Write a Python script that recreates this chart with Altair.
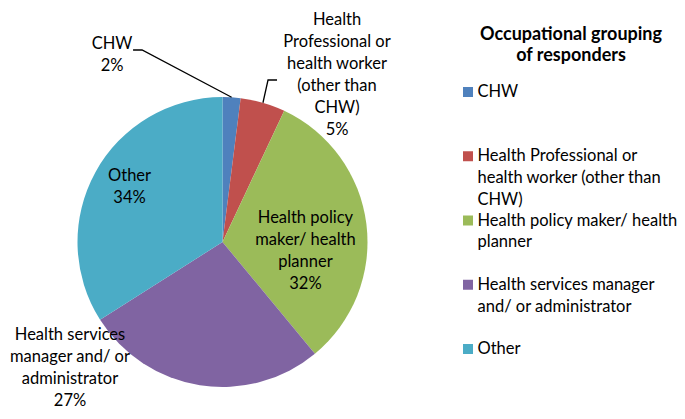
import math
import altair as alt
import pandas as pd

# ---------------- data ----------------
categories = [
    "CHW",
    "Health Professional or health worker (other than CHW)",
    "Health policy maker/ health planner",
    "Health services manager and/ or administrator",
    "Other",
]
values = [2, 5, 32, 27, 34]
colors = ["#4F81BD", "#C0504D", "#9BBB59", "#8064A2", "#4BACC6"]
pie_label_lines = [
    ["CHW"],
    ["Health", "Professional or", "health worker", "(other than", "CHW)"],
    ["Health policy", "maker/ health", "planner"],
    ["Health services", "manager and/ or", "administrator"],
    ["Other"],
]
legend_label_lines = [
    ["CHW"],
    ["Health Professional or", "health worker (other than", "CHW)"],
    ["Health policy maker/ health", "planner"],
    ["Health services manager", "and/ or administrator"],
    ["Other"],
]
legend_title = ["Occupational grouping", "of responders"]

# ---------------- layout ----------------
W, H = 669, 403
CX, CY, R = 214.5, 234, 145
FONT = "Lato"
FS = 16.5
TFS = 18
LH = 22
LEG_LH = 21.7
# label placement: (angle in degrees clockwise from 12 o'clock, distance from centre)
label_polar = [(-30.5, 217.6), (34.44, 202.5), (96.5, 83.5), (230.44, 197.8), (300.6, 108)]
# leader lines: index -> offsets (relative to label centre) of elbow and end
leader_offsets = {0: [(30, -4.5), (21, -4.5)], 1: [(-69, 5), (-60, 5)]}

total = sum(values)
cum = 0
mids = []
for v in values:
    mids.append((cum + v / 2) / total * 2 * math.pi)
    cum += v

pie_df = pd.DataFrame({"cat": categories, "value": values, "idx": list(range(len(values)))})

lab_rows = []
lead_rows = []
for i, (cat, v, lines) in enumerate(zip(categories, values, pie_label_lines)):
    full = lines + [f"{v}%"]
    a, r = label_polar[i]
    lx = CX + r * math.sin(math.radians(a))
    ly = CY - r * math.cos(math.radians(a))
    top = ly - (len(full) - 1) * LH / 2
    lab_rows.append({"cat": cat, "text": "\n".join(full), "x": lx, "y": top})
    if i in leader_offsets:
        sx = CX + R * math.sin(mids[i])
        sy = CY - R * math.cos(mids[i])
        pts = [(sx, sy)] + [(lx + dx, ly + dy) for dx, dy in leader_offsets[i]]
        for k, (px, py) in enumerate(pts):
            lead_rows.append({"cat": cat, "k": k, "x": px, "y": py})
lab_df = pd.DataFrame(lab_rows)
lead_df = pd.DataFrame(lead_rows)

leg_df = pd.DataFrame({"cat": categories, "text": ["\n".join(l) for l in legend_label_lines]})
title_df = pd.DataFrame({"t": ["\n".join(legend_title)]})

color_scale = alt.Scale(domain=categories, range=colors)

arcs = alt.Chart(pie_df).mark_arc(outerRadius=R).encode(
    theta=alt.Theta("value:Q", stack=True),
    color=alt.Color("cat:N", scale=color_scale, legend=None),
    order=alt.Order("idx:Q"),
    x=alt.value(CX),
    y=alt.value(CY),
)

leaders = alt.Chart(lead_df).mark_line(color="black", strokeWidth=1.3).encode(
    x=alt.X("x:Q", scale=None, axis=None),
    y=alt.Y("y:Q", scale=None, axis=None),
    detail="cat:N",
    order="k:Q",
)

labels = alt.Chart(lab_df).mark_text(
    font=FONT, fontSize=FS, color="black", align="center", baseline="line-top",
    lineBreak="\n", lineHeight=LH, dy=-LH / 2,
).encode(
    x=alt.X("x:Q", scale=None, axis=None),
    y=alt.Y("y:Q", scale=None, axis=None),
    text="text:N",
)

leg_y = alt.Y("cat:N", scale=alt.Scale(type="point", domain=categories, range=[84, 341], padding=0), axis=None)

leg_sq = alt.Chart(leg_df).mark_square(size=100, opacity=1).encode(
    x=alt.value(460),
    y=leg_y,
    color=alt.Color("cat:N", scale=color_scale, legend=None),
)

leg_txt = alt.Chart(leg_df).mark_text(
    font=FONT, fontSize=FS, color="black", align="left", baseline="line-top",
    lineBreak="\n", lineHeight=LEG_LH, dy=-LEG_LH / 2,
).encode(
    x=alt.value(469.5),
    y=leg_y,
    text="text:N",
)

title = alt.Chart(title_df).mark_text(
    font=FONT, fontSize=TFS, fontWeight="bold", color="black", align="center",
    baseline="line-top", lineBreak="\n", lineHeight=21, dy=-10.5,
).encode(
    x=alt.value(563),
    y=alt.value(26),
    text="t:N",
)

chart = alt.layer(arcs, leaders, labels, leg_sq, leg_txt, title).resolve_scale(
    x="independent", y="independent"
).properties(
    width=W, height=H, padding=0, autosize=alt.AutoSizeParams(type="none"),
).configure_view(stroke=None)

chart.save("out.html", embed_options={"renderer": "svg", "actions": False})
